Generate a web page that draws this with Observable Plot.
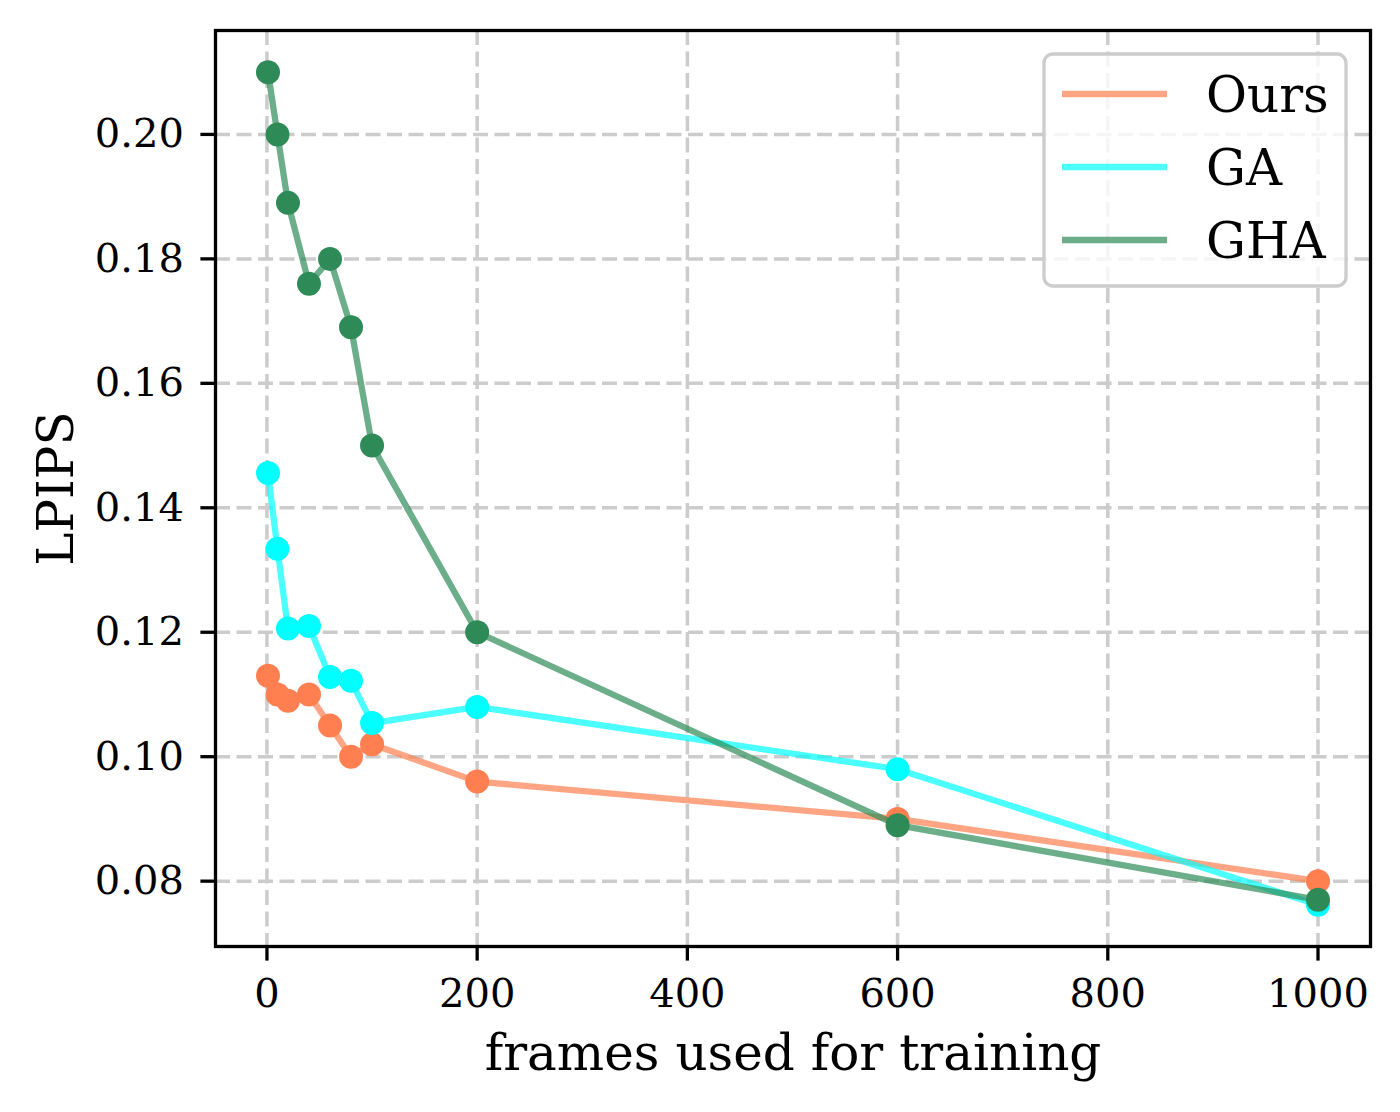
<!DOCTYPE html>
<html>
<head>
<meta charset="utf-8">
<script src="https://cdn.jsdelivr.net/npm/d3@7"></script>
<script src="https://cdn.jsdelivr.net/npm/@observablehq/plot@0.6"></script>
<style>
  html, body { margin: 0; padding: 0; background: #fff; }
  #chart svg { display: block; }
</style>
</head>
<body>
<div id="chart"></div>
<script>
// Frames used for training (x) and LPIPS per method
const frames = [1, 10, 20, 40, 60, 80, 100, 200, 600, 1000];
const oursLPIPS = [0.113, 0.110, 0.109, 0.110, 0.105, 0.100, 0.102, 0.096, 0.090, 0.080];
const gaLPIPS   = [0.1456, 0.1334, 0.1206, 0.1210, 0.1128, 0.1122, 0.1054, 0.108, 0.098, 0.0762];
const ghaLPIPS  = [0.210, 0.200, 0.189, 0.176, 0.180, 0.169, 0.150, 0.120, 0.089, 0.077];

const seriesNames  = ["Ours", "GA", "GHA"];
const seriesColors = ["#FF7F50", "#00FFFF", "#2E8B57"];
const seriesValues = [oursLPIPS, gaLPIPS, ghaLPIPS];

const xTicks = [0, 200, 400, 600, 800, 1000];
const yTicks = [0.08, 0.10, 0.12, 0.14, 0.16, 0.18, 0.20];

const xLabel = "frames used for training";
const yLabel = "LPIPS";

const font = "DejaVu Serif";
const W = 1400, H = 1112;
const mL = 215, mR = 30, mT = 30, mB = 166;

// long-format rows built from the arrays above
const rows = seriesNames.flatMap((name, i) =>
  frames.map((f, j) => ({series: name, frames: f, lpips: seriesValues[i][j]}))
);

const gridStyle = {stroke: "#cccccc", strokeOpacity: 1, strokeWidth: 3.5, strokeDasharray: "15,6.5"};

const seriesMarks = seriesNames.flatMap((name, i) => {
  const d = rows.filter(r => r.series === name);
  return [
    Plot.line(d, {x: "frames", y: "lpips", stroke: seriesColors[i], strokeOpacity: 0.7, strokeWidth: 6.3}),
    Plot.dot(d, {x: "frames", y: "lpips", fill: seriesColors[i], r: 12, stroke: "none"})
  ];
});

const chart = Plot.plot({
  width: W,
  height: H,
  marginLeft: mL,
  marginRight: mR,
  marginTop: mT,
  marginBottom: mB,
  style: {fontFamily: font, background: "#fff", color: "#000"},
  x: {domain: [-48.95, 1049.95]},
  y: {domain: [0.0695, 0.2167]},
  marks: [
    Plot.gridX(xTicks, gridStyle),
    Plot.gridY(yTicks, gridStyle),
    ...seriesMarks,
    Plot.frame({stroke: "#000", strokeWidth: 3.3}),
    Plot.axisX(xTicks, {
      anchor: "bottom", tickSize: 14.6, tickPadding: 17, tickFormat: d3.format("d"),
      fontSize: 40, strokeWidth: 3.3, label: null
    }),
    Plot.axisY(yTicks, {
      anchor: "left", tickSize: 14.6, tickPadding: 17, tickFormat: d3.format(".2f"),
      fontSize: 40, strokeWidth: 3.3, label: null
    }),
    Plot.text([xLabel], {
      frameAnchor: "bottom", text: d => d, dy: 123, lineAnchor: "bottom", textAnchor: "middle",
      fontSize: 50, fill: "#000"
    }),
    Plot.text([yLabel], {
      frameAnchor: "left", text: d => d, dx: -143, rotate: -90, lineAnchor: "bottom", textAnchor: "middle",
      fontSize: 50, fill: "#000"
    })
  ]
});

document.getElementById("chart").appendChild(chart);

// Legend box in the upper right of the plotting area
const svg = d3.select(chart);
const lg = svg.append("g").attr("font-family", font).attr("text-anchor", "start");
lg.append("rect")
  .attr("x", 1044).attr("y", 54).attr("width", 302).attr("height", 232)
  .attr("rx", 9).attr("ry", 9)
  .attr("fill", "#fff").attr("fill-opacity", 0.8)
  .attr("stroke", "#cccccc").attr("stroke-width", 3.3);
seriesNames.forEach((name, i) => {
  const yLine = 94 + i * 73;
  lg.append("line")
    .attr("x1", 1062).attr("x2", 1167).attr("y1", yLine).attr("y2", yLine)
    .attr("stroke", seriesColors[i]).attr("stroke-opacity", 0.7).attr("stroke-width", 6.5);
  lg.append("text")
    .attr("x", 1206).attr("y", yLine + 18)
    .attr("text-anchor", "start")
    .attr("font-size", 50).attr("fill", "#000")
    .text(name);
});
</script>
</body>
</html>
